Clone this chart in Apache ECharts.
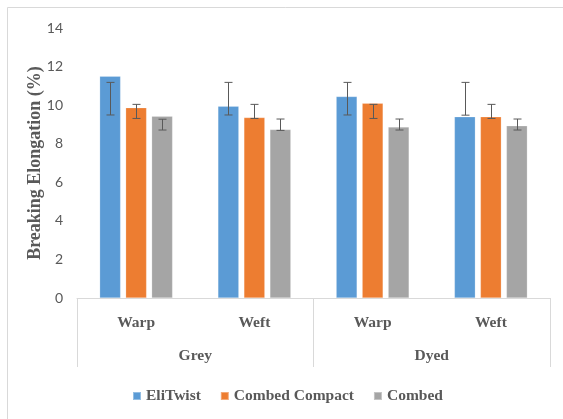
<!DOCTYPE html>
<html>
<head>
<meta charset="utf-8">
<script src="https://cdn.jsdelivr.net/npm/echarts@6/dist/echarts.min.js"></script>
<style>
html,body{margin:0;padding:0;background:#fff;}
#chart{width:563px;height:419px;}
</style>
</head>
<body>
<div id="chart"></div>
<script>
// ---- data ----
const subCategories = ['Warp', 'Weft', 'Warp', 'Weft'];
const groupCategories = ['Grey', 'Dyed'];
const seriesNames = ['EliTwist', 'Combed Compact', 'Combed'];
const eliTwist = [11.5, 9.95, 10.45, 9.4];
const combedCompact = [9.87, 9.36, 10.1, 9.4];
const combed = [9.43, 8.74, 8.87, 8.93];
const eliTwistErrLow = [9.49, 9.49, 9.49, 9.48];
const eliTwistErrHigh = [11.18, 11.18, 11.18, 11.18];
const combedCompactErrLow = [9.31, 9.31, 9.31, 9.31];
const combedCompactErrHigh = [10.04, 10.04, 10.04, 10.04];
const combedErrLow = [8.71, 8.69, 8.71, 8.71];
const combedErrHigh = [9.27, 9.28, 9.28, 9.28];
const yTicks = [0, 2, 4, 6, 8, 10, 12, 14];

// ---- styling ----
const colors = ['#5B9BD5', '#ED7D31', '#A5A5A5'];
const BAR_W = 21, BAR_GAP = 5;
const serif = "Liberation Serif, Times New Roman, serif";
const sans = "Lato, Liberation Sans, sans-serif";
const textColor = '#595959';

const values = [eliTwist, combedCompact, combed];
const lows = [eliTwistErrLow, combedCompactErrLow, combedErrLow];
const highs = [eliTwistErrHigh, combedCompactErrHigh, combedErrHigh];

const chart = echarts.init(document.getElementById('chart'), null, {renderer: 'canvas'});

const series = [];
values.forEach((vals, i) => {
  series.push({
    name: seriesNames[i],
    type: 'bar',
    xAxisIndex: 0,
    data: vals,
    barWidth: BAR_W,
    barGap: (BAR_GAP / BAR_W * 100) + '%',
    itemStyle: {color: colors[i], borderColor: 'rgba(255,255,255,0.35)', borderWidth: 0.6},
    emphasis: {disabled: true},
    z: 2
  });
});
values.forEach((vals, i) => {
  const offset = (i - 1) * (BAR_W + BAR_GAP);
  series.push({
    name: seriesNames[i] + ' err',
    type: 'custom',
    xAxisIndex: 0,
    data: vals.map((v, k) => [k, lows[i][k], highs[i][k]]),
    encode: {x: 0, y: [1, 2]},
    z: 5,
    silent: true,
    renderItem: function (params, api) {
      const xi = api.value(0);
      const lo = api.coord([xi, api.value(1)]);
      const hi = api.coord([xi, api.value(2)]);
      const x = Math.round(lo[0] + offset) + 0.5;
      const cap = 4;
      const st = {stroke: '#595959', lineWidth: 1};
      return {
        type: 'group',
        children: [
          {type: 'line', shape: {x1: x, y1: lo[1], x2: x, y2: hi[1]}, style: st},
          {type: 'line', shape: {x1: x - cap, y1: lo[1], x2: x + cap, y2: lo[1]}, style: st},
          {type: 'line', shape: {x1: x - cap, y1: hi[1], x2: x + cap, y2: hi[1]}, style: st}
        ]
      };
    }
  });
});

const option = {
  animation: false,
  backgroundColor: '#fff',
  graphic: [{
    type: 'rect',
    shape: {x: 7.5, y: 7.5, width: 700, height: 600},
    style: {fill: 'none', stroke: '#d9d9d9', lineWidth: 1},
    silent: true
  }],
  legend: {
    data: seriesNames,
    left: 127,
    top: 383,
    icon: 'rect',
    itemWidth: 8,
    itemHeight: 8,
    itemGap: 19,
    textStyle: {fontFamily: serif, fontWeight: 'bold', fontSize: 15.5, color: textColor}
  },
  grid: {left: 77, right: 13, top: 28, bottom: 121, containLabel: false},
  xAxis: [{
    type: 'category',
    data: subCategories,
    position: 'bottom',
    axisLine: {show: true, lineStyle: {color: '#d9d9d9', width: 1}},
    axisTick: {show: false},
    axisLabel: {margin: 17, fontFamily: serif, fontWeight: 'bold', fontSize: 15.5, color: textColor},
    splitLine: {show: false}
  }, {
    type: 'category',
    data: groupCategories,
    position: 'bottom',
    axisLine: {show: false},
    axisTick: {show: true, length: 69, interval: 0, lineStyle: {color: '#d9d9d9', width: 1}},
    axisLabel: {margin: 50, fontFamily: serif, fontWeight: 'bold', fontSize: 15.5, color: textColor},
    splitLine: {show: false}
  }],
  yAxis: {
    type: 'value',
    min: yTicks[0],
    max: yTicks[yTicks.length - 1],
    interval: 2,
    name: 'Breaking Elongation (%)',
    nameLocation: 'middle',
    nameGap: 33,
    nameMoveOverlap: false,
    nameTextStyle: {fontFamily: serif, fontWeight: 'bold', fontSize: 18, color: textColor},
    axisLine: {show: false},
    axisTick: {show: false},
    splitLine: {show: false},
    axisLabel: {margin: 14, fontFamily: sans, fontSize: 14, color: textColor}
  },
  series: series
};
chart.setOption(option);
</script>
</body>
</html>
